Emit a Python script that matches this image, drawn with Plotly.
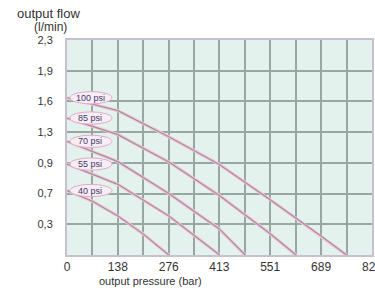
import plotly.graph_objects as go

# ---- data ----
x_ticks = [0, 138, 276, 413, 551, 689, 827]
x_minor = [69, 207, 345, 482, 620, 758]
y_tick_pos = [1, 2, 3, 4, 5, 6, 7]
y_tick_text = ["0,3", "0,7", "0,9", "1,3", "1,6", "1,9", "2,3"]

series_names = ["100 psi", "85 psi", "70 psi", "55 psi", "40 psi"]
p100_x = [0, 138, 276, 413, 551, 689, 758]
p100_y = [5.12, 4.7, 3.85, 2.95, 1.8, 0.62, 0]
p85_x = [0, 138, 276, 413, 551, 621]
p85_y = [4.46, 3.92, 3.03, 1.94, 0.69, 0]
p70_x = [0, 138, 276, 413, 483]
p70_y = [3.70, 3.04, 2.0, 0.85, 0]
p55_x = [0, 138, 276, 414]
p55_y = [2.96, 2.3, 1.27, 0]
p40_x = [0, 69, 138, 207, 276]
p40_y = [2.10, 1.75, 1.27, 0.68, 0]

curves = [(p100_x, p100_y), (p85_x, p85_y), (p70_x, p70_y), (p55_x, p55_y), (p40_x, p40_y)]

FONT = "Liberation Sans, Arial, sans-serif"
W, H = 375, 290
L, R, T, B = 67, 3, 40, 35
pw, ph = W - L - R, H - T - B


def px(xp):
    return (xp - L) / pw


def py(yp):
    return (H - B - yp) / ph


fig = go.Figure()
for name, (xs, ys) in zip(series_names, curves):
    fig.add_trace(go.Scatter(x=xs, y=ys, mode="lines", name=name,
                             line=dict(color="#f0c6d6", width=3.2), hoverinfo="skip"))
    fig.add_trace(go.Scatter(x=xs, y=ys, mode="lines", name=name,
                             line=dict(color="#a88b9f", width=1.2)))

for name, (xs, ys) in zip(series_names, curves):
    fig.add_shape(type="circle", xref="x", yref="y",
                  x0=8, x1=122, y0=ys[0] - 0.2, y1=ys[0] + 0.2,
                  fillcolor="#f6eef4", line=dict(color="#e3a9c8", width=1), layer="above")
    fig.add_annotation(x=63, y=ys[0], xref="x", yref="y", text=name, showarrow=False,
                       font=dict(family=FONT, size=9, color="#45376a"))

fig.update_layout(
    width=W, height=H,
    margin=dict(l=L, r=R, t=T, b=B),
    paper_bgcolor="white", plot_bgcolor="#e4f2ed",
    showlegend=False,
    font=dict(family=FONT, size=11, color="#333333"),
    xaxis=dict(range=[0, 827], tickvals=x_ticks, ticktext=[str(v) for v in x_ticks],
               showgrid=True, gridcolor="#97a8a1", gridwidth=1.5,
               minor=dict(tickvals=x_minor, showgrid=True, gridcolor="#97a8a1", gridwidth=1.5),
               showline=True, linecolor="#c7c0cf", linewidth=2, mirror=True,
               zeroline=False, ticks="", tickfont=dict(size=12),
               ticklabeloverflow="allow", automargin=False),
    yaxis=dict(range=[0, 7], tickvals=y_tick_pos, ticktext=y_tick_text,
               showgrid=True, gridcolor="#97a8a1", gridwidth=1.5,
               showline=True, linecolor="#c7c0cf", linewidth=2, mirror=True,
               zeroline=False, ticks="", ticklabelstandoff=10, tickfont=dict(size=11),
               automargin=False),
)

fig.add_annotation(text="output flow", x=px(48), y=py(13), xref="paper", yref="paper",
                   xanchor="center", yanchor="middle",
                   showarrow=False, font=dict(size=13, color="#333333"))
fig.add_annotation(text="(l/min)", x=px(50), y=py(27), xref="paper", yref="paper",
                   xanchor="center", yanchor="middle",
                   showarrow=False, font=dict(size=12, color="#333333"))
fig.add_annotation(text="output pressure (bar)", x=px(150), y=py(281), xref="paper", yref="paper",
                   xanchor="center", yanchor="middle",
                   showarrow=False, font=dict(size=11, color="#333333"))

fig.write_html("out.html", config={"displayModeBar": False},
               post_script="document.body.style.margin='0';document.body.style.overflow='hidden';")
